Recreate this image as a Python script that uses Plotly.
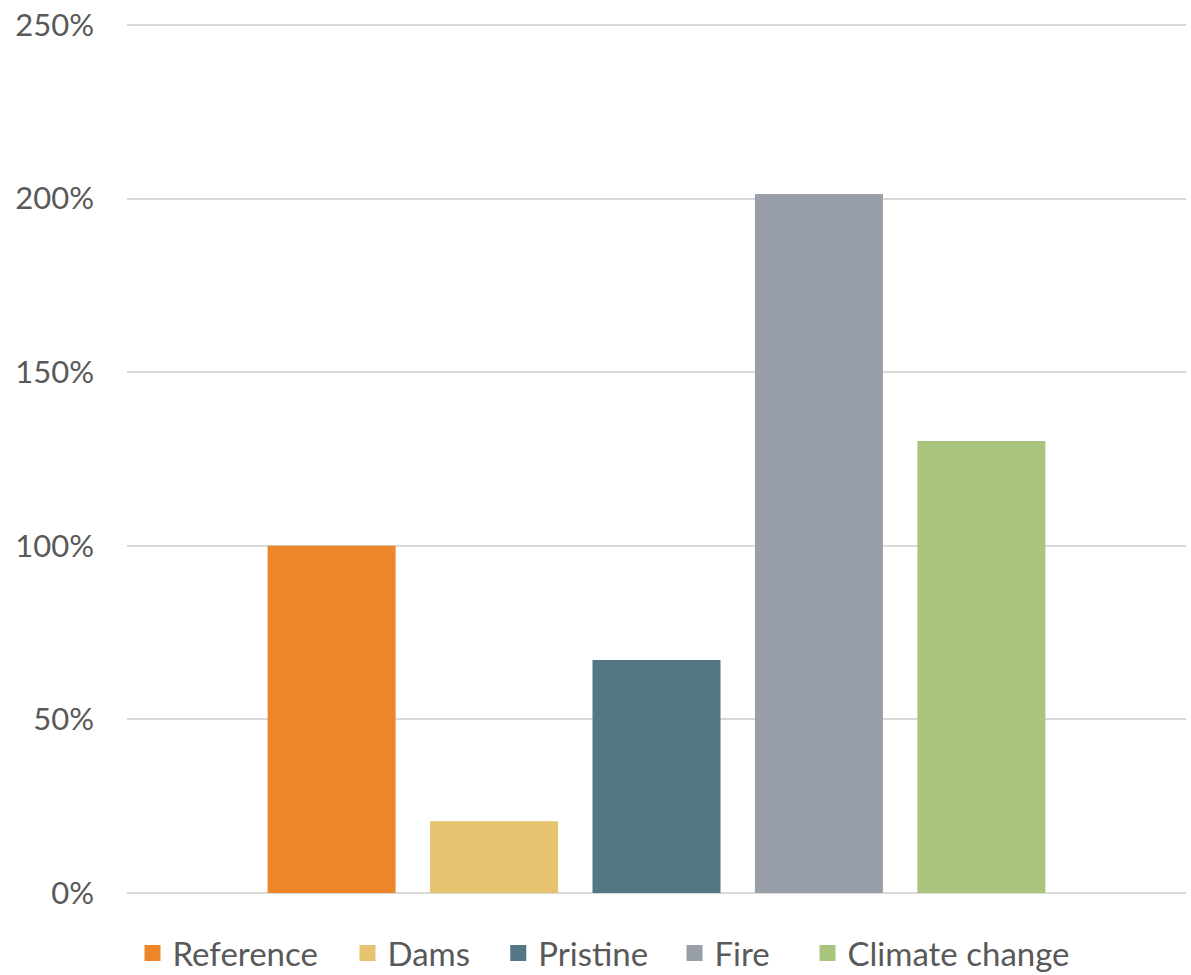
import plotly.graph_objects as go

series = ["Reference", "Dams", "Pristine", "Fire", "Climate change"]
values = [1.00, 0.207, 0.671, 2.013, 1.302]
colors = ["#ED852A", "#E5C36F", "#537785", "#989FA8", "#A9C47C"]
category = [""]
tick_vals = [0, 0.5, 1.0, 1.5, 2.0, 2.5]
tick_text = ["0%", "50%", "100%", "150%", "200%", "250%"]
# legend entry left positions (paper fraction)
legend_x = [0.0052, 0.2082, 0.3506, 0.517, 0.6426]

font_family = "Lato, 'Open Sans', sans-serif"
text_color = "#595959"

fig = go.Figure()
legend_ids = ["legend", "legend2", "legend3", "legend4", "legend5"]
for name, v, c, lid in zip(series, values, colors, legend_ids):
    fig.add_trace(go.Bar(x=category, y=[v], name=name, marker_color=c,
                         marker_line_width=0, showlegend=False, legendgroup=name))
    # legend swatch (square marker), no visible data
    fig.add_trace(go.Scatter(x=[None], y=[None], mode="markers", name=name,
                             marker=dict(symbol="square", size=16, color=c),
                             legendgroup=name, legend=lid, showlegend=True))

layout_legends = {}
for lid, lx in zip(legend_ids, legend_x):
    layout_legends[lid] = dict(orientation="h", x=lx, xanchor="left",
                               y=-0.0691, yanchor="middle",
                               font=dict(size=33, color=text_color, family=font_family),
                               bgcolor="rgba(0,0,0,0)", itemwidth=30)

fig.update_layout(
    width=1191, height=975,
    margin=dict(l=127, r=5, t=24, b=82, autoexpand=False),
    paper_bgcolor="white", plot_bgcolor="white",
    barmode="group", bargap=0.233, bargroupgap=0.212,
    font=dict(family=font_family, size=31, color=text_color),
    showlegend=True,
    xaxis=dict(showticklabels=False, showgrid=False, showline=False, zeroline=False,
               range=[-0.5, 0.5]),
    yaxis=dict(range=[0, 2.503], tickvals=tick_vals, ticktext=tick_text,
               showgrid=True, gridcolor="#D9D9D9", gridwidth=1.5,
               zeroline=True, zerolinecolor="#D9D9D9", zerolinewidth=1.5,
               showline=False, ticks="", ticklabelstandoff=32,
               tickfont=dict(size=31, color=text_color)),
    **layout_legends,
)
fig.write_html("out.html")
